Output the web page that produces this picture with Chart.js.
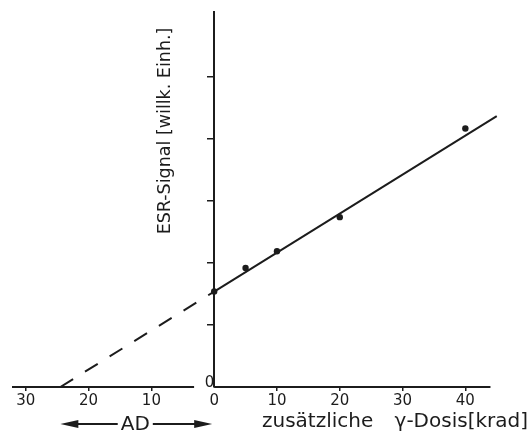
<!DOCTYPE html>
<html>
<head>
<meta charset="utf-8">
<script src="https://cdn.jsdelivr.net/npm/chart.js@4.4.1/dist/chart.umd.min.js"></script>
<style>
  html, body { margin: 0; padding: 0; background: #fff; }
  canvas { display: block; }
</style>
</head>
<body>
<canvas id="esrChart" width="530" height="438"></canvas>
<script>
// ------------------------------
// Values
// ------------------------------
const doseKrad = [0, 5, 10, 20, 40];               // zusätzliche γ-Dosis [krad]
const esrSignal = [1.54, 1.92, 2.19, 2.74, 4.17];  // ESR-Signal [willk. Einh.]
const fitDose = [0, 45];                           // fitted line
const fitSignal = [1.54, 4.37];
const extrapDose = [-24.5, 0];                     // dashed back-extrapolation
const extrapSignal = [0, 1.54];
const accumulatedDose = 24.5;                      // AD
const xTicks = [-30, -20, -10, 0, 10, 20, 30, 40];
const yTicks = [0, 1, 2, 3, 4, 5];
const yTickLabels = ['0', '', '', '', '', ''];

const INK = '#1c1c1c';
const FONT = '"DejaVu Sans", sans-serif';

function toXY(xs, ys) {
    return xs.map((x, i) => ({ x: x, y: ys[i] }));
}

// ------------------------------
// x axis is drawn in two pieces, with a gap for the "0" of the y axis
// ------------------------------
const axisSegments = {
    id: 'axisSegments',
    beforeDatasetsDraw(chart) {
        const { ctx, scales: { x, y } } = chart;
        const y0 = y.getPixelForValue(0);
        ctx.save();
        ctx.strokeStyle = INK;
        ctx.lineWidth = 2;
        ctx.beginPath();
        ctx.moveTo(x.getPixelForValue(x.min), y0);
        ctx.lineTo(x.getPixelForValue(-3.2), y0);
        ctx.moveTo(x.getPixelForValue(0), y0);
        ctx.lineTo(x.getPixelForValue(44), y0);
        ctx.stroke();
        ctx.restore();
    }
};

// ------------------------------
// Axis titles and the AD arrow
// ------------------------------
const figureText = {
    id: 'figureText',
    afterDraw(chart) {
        const { ctx, scales: { x, y } } = chart;
        const x0 = x.getPixelForValue(0);
        ctx.save();
        ctx.fillStyle = INK;
        ctx.strokeStyle = INK;

        // y title, reads bottom to top
        ctx.save();
        ctx.translate(x0 - 44, 131);
        ctx.rotate(-Math.PI / 2);
        ctx.font = '17.5px ' + FONT;
        ctx.textAlign = 'center';
        ctx.textBaseline = 'alphabetic';
        ctx.fillText('ESR-Signal [willk. Einh.]', 0, 0);
        ctx.restore();

        // x title
        ctx.font = '20px ' + FONT;
        ctx.textBaseline = 'alphabetic';
        ctx.textAlign = 'left';
        ctx.fillText('zusätzliche', 262, 427);
        ctx.textAlign = 'right';
        ctx.fillText('γ-Dosis[krad]', 528, 427);

        // AD arrow from the x intercept back to zero
        const left = x.getPixelForValue(-accumulatedDose);
        const right = x0 - 2;
        const ay = 424;
        const mid = (left + right) / 2 - 1;
        ctx.textAlign = 'center';
        ctx.fillText('AD', mid, 430);
        const half = ctx.measureText('AD').width / 2;

        ctx.lineWidth = 1.8;
        ctx.beginPath();
        ctx.moveTo(left + 8, ay);
        ctx.lineTo(mid - half - 3, ay);
        ctx.moveTo(mid + half + 3, ay);
        ctx.lineTo(right - 8, ay);
        ctx.stroke();

        ctx.beginPath();
        ctx.moveTo(left, ay);
        ctx.lineTo(left + 18, ay - 4);
        ctx.lineTo(left + 18, ay + 4);
        ctx.closePath();
        ctx.moveTo(right, ay);
        ctx.lineTo(right - 18, ay - 4);
        ctx.lineTo(right - 18, ay + 4);
        ctx.closePath();
        ctx.fill();

        ctx.restore();
    }
};

const hideAt = (values) => (c) => (c.tick && values.includes(c.tick.value)) ? 'rgba(0,0,0,0)' : INK;

new Chart(document.getElementById('esrChart').getContext('2d'), {
    type: 'scatter',
    data: {
        datasets: [
            {
                label: 'Messwerte',
                data: toXY(doseKrad, esrSignal),
                showLine: false,
                pointRadius: 3.2,
                backgroundColor: INK,
                borderColor: INK,
                borderWidth: 0
            },
            {
                label: 'Ausgleichsgerade',
                data: toXY(fitDose, fitSignal),
                showLine: true,
                pointRadius: 0,
                borderColor: INK,
                borderWidth: 2
            },
            {
                label: 'Extrapolation',
                data: toXY(extrapDose, extrapSignal),
                showLine: true,
                pointRadius: 0,
                borderColor: INK,
                borderWidth: 2,
                borderDash: [15, 14]
            }
        ]
    },
    options: {
        responsive: false,
        animation: false,
        layout: { padding: { left: 12, right: 32, top: 6, bottom: 51 } },
        plugins: {
            legend: { display: false },
            tooltip: { enabled: false }
        },
        scales: {
            x: {
                type: 'linear',
                position: { y: 0 },
                min: -32.2,
                max: 45.2,
                afterBuildTicks: (s) => { s.ticks = xTicks.map(v => ({ value: v })); },
                ticks: {
                    font: { family: FONT, size: 15 },
                    color: INK,
                    padding: 1,
                    maxRotation: 0,
                    autoSkip: false,
                    callback: (v) => String(Math.abs(v))
                },
                grid: { drawOnChartArea: false, tickLength: 4, lineWidth: 1.5, color: hideAt([0]) },
                border: { display: false }
            },
            y: {
                type: 'linear',
                position: { x: 0 },
                min: 0,
                max: 6.05,
                afterBuildTicks: (s) => { s.ticks = yTicks.map(v => ({ value: v })); },
                ticks: {
                    font: { family: FONT, size: 15 },
                    color: INK,
                    labelOffset: -4,
                    autoSkip: false,
                    callback: (v) => yTickLabels[yTicks.indexOf(v)]
                },
                grid: { drawOnChartArea: false, tickLength: 6, lineWidth: 1.5, color: hideAt([0]) },
                border: { color: INK, width: 2 }
            }
        }
    },
    plugins: [axisSegments, figureText]
});
</script>
</body>
</html>
